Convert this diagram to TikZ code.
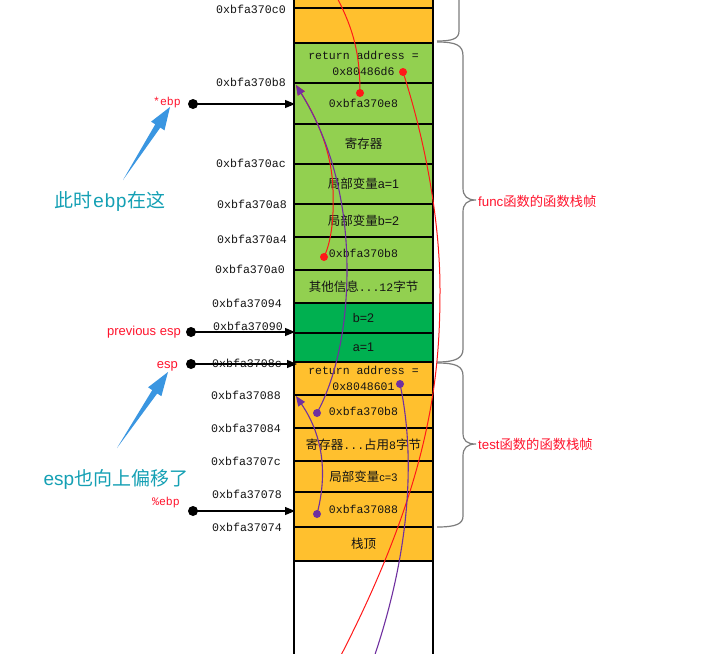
\documentclass[tikz,border=0pt]{standalone}
\usepackage{fontspec}
\setmainfont{Liberation Sans}
\newfontfamily\MyCJK{Noto Sans CJK SC}
\newfontfamily\MyMonoF{Liberation Mono}
\newcommand\MyMono[1]{{\MyMonoF\fontsize{11.5}{16}\selectfont #1}}
\newcommand\MyC[1]{{\MyCJK #1}}
\usetikzlibrary{arrows.meta,calc}
\definecolor{orng}{RGB}{255,192,46}
\definecolor{lgreen}{RGB}{146,208,80}
\definecolor{dgreen}{RGB}{0,176,80}
\definecolor{purp}{RGB}{112,48,160}
\definecolor{redc}{RGB}{255,25,25}
\definecolor{bluea}{RGB}{58,150,225}
\definecolor{tealt}{RGB}{20,160,180}
\definecolor{bracec}{RGB}{125,125,125}
\definecolor{labred}{RGB}{255,20,45}
\begin{document}
\begin{tikzpicture}[x=1pt,y=-1pt,
  cell/.style={draw=black,line width=1.2pt,minimum width=139pt,inner sep=0pt,
    text=black!92,align=center,font=\fontsize{12.5}{16}\selectfont},
  monocell/.style={cell,font=\MyMonoF\fontsize{11.5}{16}\selectfont},
  addr/.style={anchor=east,inner sep=0pt,text=black!92,font=\MyMonoF\fontsize{11.6}{13}\selectfont},
  redlab/.style={anchor=east,inner sep=0pt,text=labred},
  blackdot/.style={circle,fill=black,inner sep=0pt,minimum size=10pt},
  reddot/.style={circle,fill=redc,inner sep=0pt,minimum size=8pt},
  purpdot/.style={circle,fill=purp,inner sep=0pt,minimum size=8pt},
  ptr/.style={line width=1.1pt,-{Triangle[length=10pt,width=8pt]}},
  redcurve/.style={draw=redc,line width=1pt},
  purpcurve/.style={draw=purp,line width=1.1pt},
  bracestyle/.style={draw=bracec,line width=1.2pt},
  bluetext/.style={text=tealt,font=\fontsize{19}{21}\selectfont,inner sep=0pt},
  frametext/.style={anchor=west,inner sep=0pt,text=labred,font=\fontsize{13.3}{15}\selectfont}
]
\clip (0,0) rectangle (709,653);
\fill[white] (0,0) rectangle (709,653);

% stack cells
\node[cell,fill=orng,minimum height=38pt] (c0) at (363.5,-11) {};
\node[cell,fill=orng,minimum height=35pt] (c1) at (363.5,25.5) {};
\node[monocell,fill=lgreen,minimum height=40pt] (c2) at (363.5,63) {return address =\\0x80486d6};
\node[monocell,fill=lgreen,minimum height=41pt] (c3) at (363.5,103.5) {0xbfa370e8};
\node[cell,fill=lgreen,minimum height=40pt] (c4) at (363.5,144) {\MyC{寄存器}};
\node[cell,fill=lgreen,minimum height=40pt] (c5) at (363.5,184) {\MyC{局部变量}a=1};
\node[cell,fill=lgreen,minimum height=33pt] (c6) at (363.5,220.5) {\MyC{局部变量}b=2};
\node[monocell,fill=lgreen,minimum height=33pt] (c7) at (363.5,253.5) {0xbfa370b8};
\node[cell,fill=lgreen,minimum height=33pt] (c8) at (363.5,286.5) {\MyC{其他信息}\MyMono{...12}\MyC{字节}};
\node[cell,fill=dgreen,minimum height=30pt] (c9) at (363.5,318) {b=2};
\node[cell,fill=dgreen,minimum height=29pt] (c10) at (363.5,347.5) {a=1};
\node[monocell,fill=orng,minimum height=33pt] (c11) at (363.5,378.5) {return address =\\0x8048601};
\node[monocell,fill=orng,minimum height=33pt] (c12) at (363.5,411.5) {0xbfa370b8};
\node[cell,fill=orng,minimum height=33pt] (c13) at (363.5,444.5) {\MyC{寄存器}\MyMono{...}\MyC{占用}\MyMono{8}\MyC{字节}};
\node[cell,fill=orng,minimum height=31pt] (c14) at (363.5,476.5) {\MyC{局部变量}{\fontsize{11}{14}\selectfont c=3}};
\node[monocell,fill=orng,minimum height=35pt] (c15) at (363.5,509.5) {0xbfa37088};
\node[cell,fill=orng,minimum height=34pt] (c16) at (363.5,544) {\MyC{栈顶}};
\node[cell,minimum height=120pt] (c17) at (363.5,621) {};

% addresses
\node[addr] (a1) at (286,9) {0xbfa370c0};
\node[addr] (a2) at (286,82) {0xbfa370b8};
\node[addr] (a3) at (286,163) {0xbfa370ac};
\node[addr] (a4) at (287,204) {0xbfa370a8};
\node[addr] (a5) at (287,239) {0xbfa370a4};
\node[addr] (a6) at (285,269) {0xbfa370a0};
\node[addr] (a7) at (282,303) {0xbfa37094};
\node[addr] (a8) at (283,326) {0xbfa37090};
\node[addr] (a9) at (282,363) {0xbfa3708c};
\node[addr] (a10) at (281,395) {0xbfa37088};
\node[addr] (a11) at (281,428) {0xbfa37084};
\node[addr] (a12) at (281,461) {0xbfa3707c};
\node[addr] (a13) at (282,494) {0xbfa37078};
\node[addr] (a14) at (282,527) {0xbfa37074};

% red pointer labels
\node[redlab,font=\MyMonoF\fontsize{11.5}{13}\selectfont] (l1) at (181,103) {*ebp};
\node[redlab,font=\fontsize{13}{15}\selectfont] (l2) at (181,332) {previous esp};
\node[redlab,font=\fontsize{13}{15}\selectfont] (l3) at (178,366) {esp};
\node[redlab,font=\MyMonoF\fontsize{11.5}{13}\selectfont] (l4) at (180,503) {\%ebp};

% black pointer arrows
\node[blackdot] (d1) at (193,104) {};
\node[blackdot] (d2) at (191,332) {};
\node[blackdot] (d3) at (191,364) {};
\node[blackdot] (d4) at (193,511) {};
\coordinate (e1) at (295,104);
\coordinate (e2) at (295,332);
\coordinate (e3) at (297,364);
\coordinate (e4) at (295,511);
\draw[ptr] (d1.center) -- (e1);
\draw[ptr] (d2.center) -- (e2);
\draw[ptr] (d3.center) -- (e3);
\draw[ptr] (d4.center) -- (e4);

% blue fat arrows
\coordinate (bt1) at (123,180); \coordinate (bh1) at (170,107);
\coordinate (bt2) at (117,448); \coordinate (bh2) at (168,372);
\foreach \t/\h in {bt1/bh1,bt2/bh2}{
  \fill[bluea] (\t) -- ($(\t)!0.74!(\h)!-3pt!90:(\h)$) -- ($(\t)!0.74!(\h)!-8pt!90:(\h)$)
    -- (\h) -- ($(\t)!0.74!(\h)!8pt!90:(\h)$) -- ($(\t)!0.74!(\h)!3pt!90:(\h)$) -- cycle;
}
\node[bluetext] (n1) at (110,201) {\MyC{此时}{\MyMonoF ebp}\MyC{在这}};
\node[bluetext] (n2) at (116,479) {esp\MyC{也向上偏移了}};

% braces
\draw[bracestyle] (459,-5) -- (459,31) .. controls (459,39) and (452,41) .. (437,41);
\draw[bracestyle] (437,42) .. controls (456,42) and (463,45) .. (463,56) -- (463,188)
  .. controls (463,196) and (467,200) .. (476,200) .. controls (467,200) and (463,204) .. (463,212)
  -- (463,349) .. controls (463,358) and (456,362) .. (437,362);
\draw[bracestyle] (437,363) .. controls (456,363) and (463,366) .. (463,376) -- (463,433)
  .. controls (463,441) and (467,444) .. (476,444) .. controls (467,444) and (463,448) .. (463,456)
  -- (463,516) .. controls (463,524) and (456,527) .. (437,527);
\node[frametext] (f1) at (478,201) {func\MyC{函数的函数栈帧}};
\node[frametext] (f2) at (478,444) {test\MyC{函数的函数栈帧}};

% red curves
\node[reddot] (r1) at (360,93) {};
\node[reddot] (r2) at (403,72) {};
\node[reddot] (r3) at (324,257) {};
\coordinate (rtop) at (333,-10);
\coordinate (rbot) at (328,680);
\coordinate (tipA) at (296,85);
\coordinate (tipB) at (296,396);
\draw[redcurve] (rtop) .. controls (352,25) and (360,50) .. (r1.center);
\draw[redcurve] (r2.center) .. controls (425,140) and (440,220) .. (440,290)
  .. controls (440,380) and (430,490) .. (rbot);
\draw[redcurve,-{Triangle[length=10pt,width=8pt]}] (r3.center) .. controls (332,240) and (334,215) .. (333,190)
  .. controls (332,150) and (315,115) .. (tipA);

% purple curves
\node[purpdot] (p1) at (317,413) {};
\node[purpdot] (p2) at (317,514) {};
\node[purpdot] (p3) at (400,384) {};
\coordinate (pbot) at (366,680);
\draw[purpcurve,-{Triangle[length=10pt,width=8pt]}] (p1.center) .. controls (335,380) and (347,330) .. (347,270)
  .. controls (347,200) and (330,140) .. (tipA);
\draw[purpcurve,-{Triangle[length=10pt,width=8pt]}] (p2.center) .. controls (326,480) and (326,440) .. (tipB);
\draw[purpcurve] (p3.center) .. controls (412,440) and (418,540) .. (pbot);
\end{tikzpicture}
\end{document}
